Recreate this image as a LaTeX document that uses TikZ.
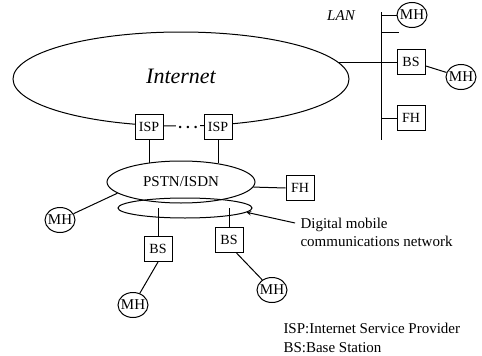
\documentclass[tikz,border=0pt]{standalone}
\usepackage{fontspec}
\setmainfont{Liberation Serif}
\usetikzlibrary{shapes.geometric}
\begin{document}
\begin{tikzpicture}[x=1pt, y=-1pt, >=stealth, line width=1pt,
    unit/.style={draw, fill=white, rectangle, minimum width=28pt, minimum height=25pt,
      inner sep=0pt, font=\fontsize{14}{16}\selectfont},
    host/.style={draw, ellipse, minimum width=30pt, minimum height=25pt,
      inner xsep=-4pt, inner ysep=0pt, font=\fontsize{15}{17}\selectfont},
    net/.style={draw, ellipse, inner sep=0pt},
    txt/.style={inner sep=0pt, align=left}]
  \useasboundingbox (0,0) rectangle (482,356);
  % networks
  \node[net, minimum width=336pt, minimum height=94pt, text depth=6pt,
    font=\itshape\fontsize{22}{26}\selectfont] (inet) at (181,79) {Internet};
  \node[net, minimum width=148pt, minimum height=42pt,
    font=\fontsize{15}{17}\selectfont] (pstn) at (181,182) {PSTN/ISDN};
  \node[net, minimum width=134pt, minimum height=20pt] (mob) at (185,208) {};
  % providers
  \node[unit] (ispA) at (149,127) {ISP};
  \node[unit] (ispB) at (218,127) {ISP};
  \node[fill=white, inner xsep=2pt, inner ysep=3pt,
    font=\bfseries\fontsize{15}{17}\selectfont] (dots) at (188,127)
    {.\hspace{4pt}.\hspace{4pt}.};
  \draw[shorten >=-2pt] (ispA.south) -- (ispA.south |- pstn.north);
  \draw[shorten >=-2.5pt] (ispB.south) -- (ispB.south |- pstn.north);
  % PSTN side
  \node[unit] (fhP) at (300,188) {FH};
  \node[unit] (bsA) at (158,249) {BS};
  \node[unit] (bsB) at (229,240) {BS};
  \node[host] (mhL) at (60,220) {MH};
  \node[host] (mhA) at (133,305) {MH};
  \node[host] (mhB) at (272,290) {MH};
  \draw (pstn.-4) -- (fhP.west);
  \draw (mhL.25) -- (pstn.190);
  \draw (bsA.north) -- (bsA.north |- mob.center);
  \draw (bsB.north) -- (bsB.north |- mob.center);
  \draw (bsA.south) -- (mhA);
  \draw (bsB.-60) -- (mhB);
  \node[txt, anchor=north west, font=\fontsize{15}{18}\selectfont] (dmc) at (300,218)
    {Digital mobile\\communications network};
  \draw[->] ([xshift=-5pt, yshift=-5pt]dmc.north west) -- (mob.-4);
  % LAN
  \node[txt, font=\itshape\fontsize{15}{17}\selectfont] (lan) at (341,16) {LAN};
  \coordinate (lanTop) at (381,12);
  \coordinate (lanBot) at (381,140);
  \coordinate (stub) at (399,32);
  \node[host] (mhT) at (412,15) {MH};
  \node[unit] (bsR) at (411,62) {BS};
  \node[unit] (fhR) at (411,118) {FH};
  \node[host] (mhR) at (461,77) {MH};
  \draw (lanTop) -- (lanBot);
  \draw (inet.6) -- (inet.6 -| lanTop);
  \foreach \n in {mhT, bsR, fhR}
    \draw (\n.west -| lanTop) -- (\n.west);
  \draw (stub -| lanTop) -- (stub);
  \draw (bsR.-15) -- (mhR);
  % legend
  \node[txt, anchor=north west, font=\fontsize{15}{18.5}\selectfont] (legend) at (283,323)
    {ISP:Internet Service Provider\\BS:Base Station};
\end{tikzpicture}
\end{document}
